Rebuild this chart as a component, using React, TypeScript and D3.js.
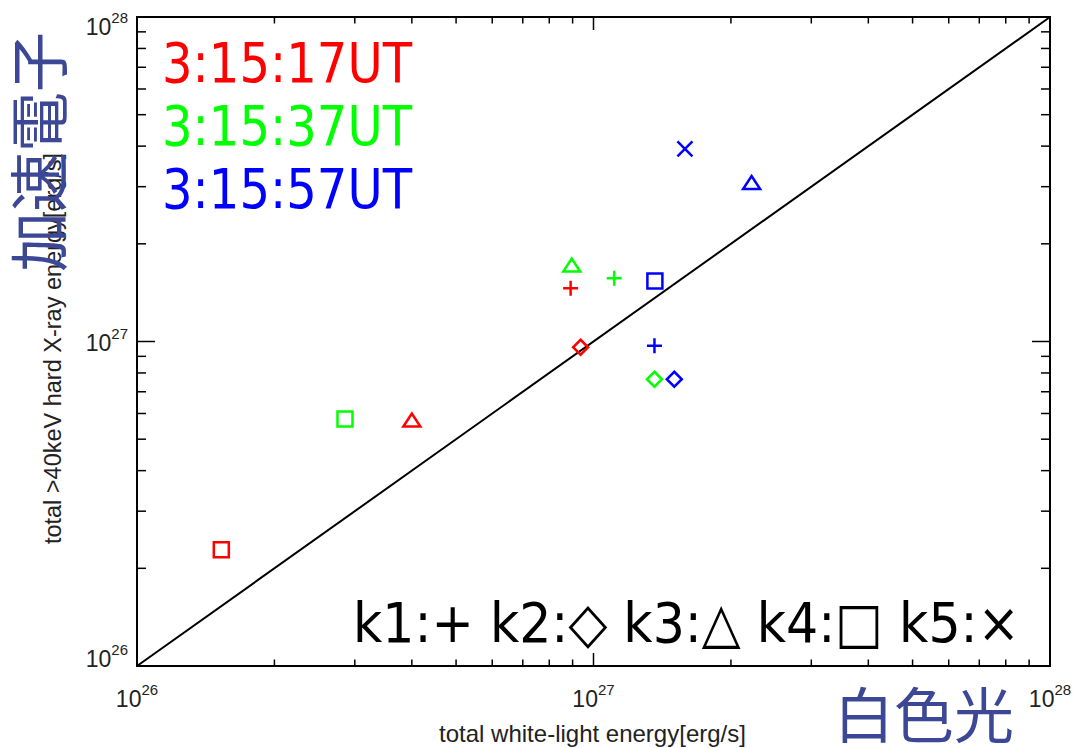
import { useEffect, useRef } from 'react';
import * as d3 from 'd3';

// one array per time step, index = kernel k1..k5 (null = not plotted)
const times = ['3:15:17UT', '3:15:37UT', '3:15:57UT'];
const timeColors = ['#ff0000', '#00ff00', '#0000ff'];
const kernels = ['k1', 'k2', 'k3', 'k4', 'k5'];
const kernelSymbols = ['+', '◇', '△', '□', '×'];

const whiteLight17 = [8.91e26, 9.37e26, 4.0e26, 1.53e26, null];
const hardXray17 = [1.46e27, 9.6e26, 5.73e26, 2.28e26, null];
const whiteLight37 = [1.11e27, 1.36e27, 8.96e26, 2.855e26, null];
const hardXray37 = [1.566e27, 7.65e26, 1.72e27, 5.77e26, null];
const whiteLight57 = [1.36e27, 1.503e27, 2.22e27, 1.363e27, 1.586e27];
const hardXray57 = [9.7e26, 7.65e26, 3.09e27, 1.536e27, 3.92e27];

const axisDomain = [1e26, 1e28];

const W = 1073;
const H = 748;

export default function App() {
  const svgRef = useRef<SVGSVGElement>(null);

  useEffect(() => {
    if (!svgRef.current) return;
    const svg = d3.select(svgRef.current);
    svg.selectAll('*').remove();

    const left = 137, right = 1050, top = 17, bottom = 666;
    const x = d3.scaleLog().domain(axisDomain).range([left, right]);
    const y = d3.scaleLog().domain(axisDomain).range([bottom, top]);

    svg.append('rect').attr('width', W).attr('height', H).attr('fill', '#fff');

    const tickFont = '"Liberation Sans", Arial, Helvetica, sans-serif';
    const isMajor = (v: number) => Math.abs(Math.log10(v) - Math.round(Math.log10(v))) < 1e-6;

    // ticks on all four sides
    const axes = svg.append('g').attr('stroke', '#000').attr('stroke-width', 1.5);
    x.ticks().forEach(v => {
      const len = isMajor(v) ? 13 : 6.5;
      const px = x(v);
      axes.append('line').attr('x1', px).attr('x2', px).attr('y1', bottom).attr('y2', bottom - len);
      axes.append('line').attr('x1', px).attr('x2', px).attr('y1', top).attr('y2', top + len);
    });
    y.ticks().forEach(v => {
      const len = isMajor(v) ? 18 : 9;
      const py = y(v);
      axes.append('line').attr('x1', left).attr('x2', left + len).attr('y1', py).attr('y2', py);
      axes.append('line').attr('x1', right).attr('x2', right - len).attr('y1', py).attr('y2', py);
    });

    svg.append('rect')
      .attr('x', left).attr('y', top)
      .attr('width', right - left).attr('height', bottom - top)
      .attr('fill', 'none').attr('stroke', '#000').attr('stroke-width', 2);

    // one-to-one line
    svg.append('line')
      .attr('x1', x(axisDomain[0])).attr('y1', y(axisDomain[0]))
      .attr('x2', x(axisDomain[1])).attr('y2', y(axisDomain[1]))
      .attr('stroke', '#000').attr('stroke-width', 2);

    // tick labels
    const majors = x.ticks().filter(isMajor);
    const yOffset = d3.scaleLinear().domain([26, 28]).range([1, 18]);
    majors.forEach(v => {
      const e = Math.round(Math.log10(v));
      const tx = svg.append('text')
        .attr('x', x(v)).attr('y', 707)
        .attr('text-anchor', 'middle')
        .style('font-family', tickFont).attr('fill', '#222');
      tx.append('tspan').style('font-size', '23px').text('10');
      tx.append('tspan').style('font-size', '15px').attr('dy', -12).text(e);

      const ty = svg.append('text')
        .attr('x', 128).attr('y', y(v) + yOffset(e))
        .attr('text-anchor', 'end')
        .style('font-family', tickFont).attr('fill', '#222');
      ty.append('tspan').style('font-size', '23px').text('10');
      ty.append('tspan').style('font-size', '15px').attr('dy', -12).text(e);
    });

    // axis titles
    svg.append('text')
      .attr('x', (left + right) / 2 - 1).attr('y', 742)
      .attr('text-anchor', 'middle')
      .style('font-family', tickFont).style('font-size', '24px')
      .attr('fill', '#222')
      .text('total white-light energy[erg/s]');

    svg.append('text')
      .attr('transform', `translate(61,${(top + bottom) / 2 + 7}) rotate(-90)`)
      .attr('text-anchor', 'middle')
      .style('font-family', tickFont).style('font-size', '23.5px')
      .attr('fill', '#222')
      .text('total >40keV hard X-ray energy[erg/s]');

    // data points
    const series = [
      [whiteLight17, hardXray17],
      [whiteLight37, hardXray37],
      [whiteLight57, hardXray57],
    ];
    const r = 7.5;
    const marker = (k: number) => {
      switch (k) {
        case 0: return `M${-r},0H${r}M0,${-r}V${r}`;
        case 1: return `M0,${-r}L${r},0L0,${r}L${-r},0Z`;
        case 2: return `M${-r - 1},${r - 1}L0,${-r + 1}L${r + 1},${r - 1}Z`;
        case 3: return `M${-r},${-r}H${r}V${r}H${-r}Z`;
        default: return `M${-r},${-r}L${r},${r}M${r},${-r}L${-r},${r}`;
      }
    };
    series.forEach(([wl, hx], i) => {
      kernels.forEach((_k, k) => {
        const a = wl[k], b = hx[k];
        if (a == null || b == null) return;
        svg.append('path')
          .attr('transform', `translate(${x(a)},${y(b)})`)
          .attr('d', marker(k))
          .attr('fill', 'none')
          .attr('stroke', timeColors[i])
          .attr('stroke-width', 2.5);
      });
    });

    // time legend
    const legendFont = '"DejaVu Sans Condensed", "DejaVu Sans", Verdana, sans-serif';
    times.forEach((t, i) => {
      svg.append('text')
        .attr('x', 162).attr('y', 82 + i * 63)
        .attr('textLength', 250)
        .attr('lengthAdjust', 'spacingAndGlyphs')
        .style('font-family', legendFont).style('font-size', '55px')
        .attr('fill', timeColors[i])
        .text(t);
    });

    // kernel legend
    svg.append('text')
      .attr('x', 353).attr('y', 642)
      .attr('textLength', 667)
      .attr('lengthAdjust', 'spacingAndGlyphs')
      .style('font-family', legendFont).style('font-size', '56px')
      .attr('fill', '#000')
      .text(kernels.map((k, i) => `${k}:${kernelSymbols[i]}`).join(' '));

    // Japanese overlay labels
    const jpFont = '"Noto Sans CJK JP", "Noto Sans CJK SC", sans-serif';
    const jpColor = '#3c4896';
    svg.append('text')
      .attr('transform', 'translate(62,152) rotate(-90)')
      .attr('text-anchor', 'middle')
      .style('font-family', jpFont).style('font-size', '60px')
      .attr('fill', jpColor)
      .text('加速電子');
    svg.append('text')
      .attr('x', 834).attr('y', 738)
      .style('font-family', jpFont).style('font-size', '60px')
      .attr('fill', jpColor)
      .text('白色光');
  }, []);

  return (
    <svg
      ref={svgRef}
      width={W}
      height={H}
      style={{ position: 'absolute', left: 0, top: 0, display: 'block' }}
    ></svg>
  );
}
